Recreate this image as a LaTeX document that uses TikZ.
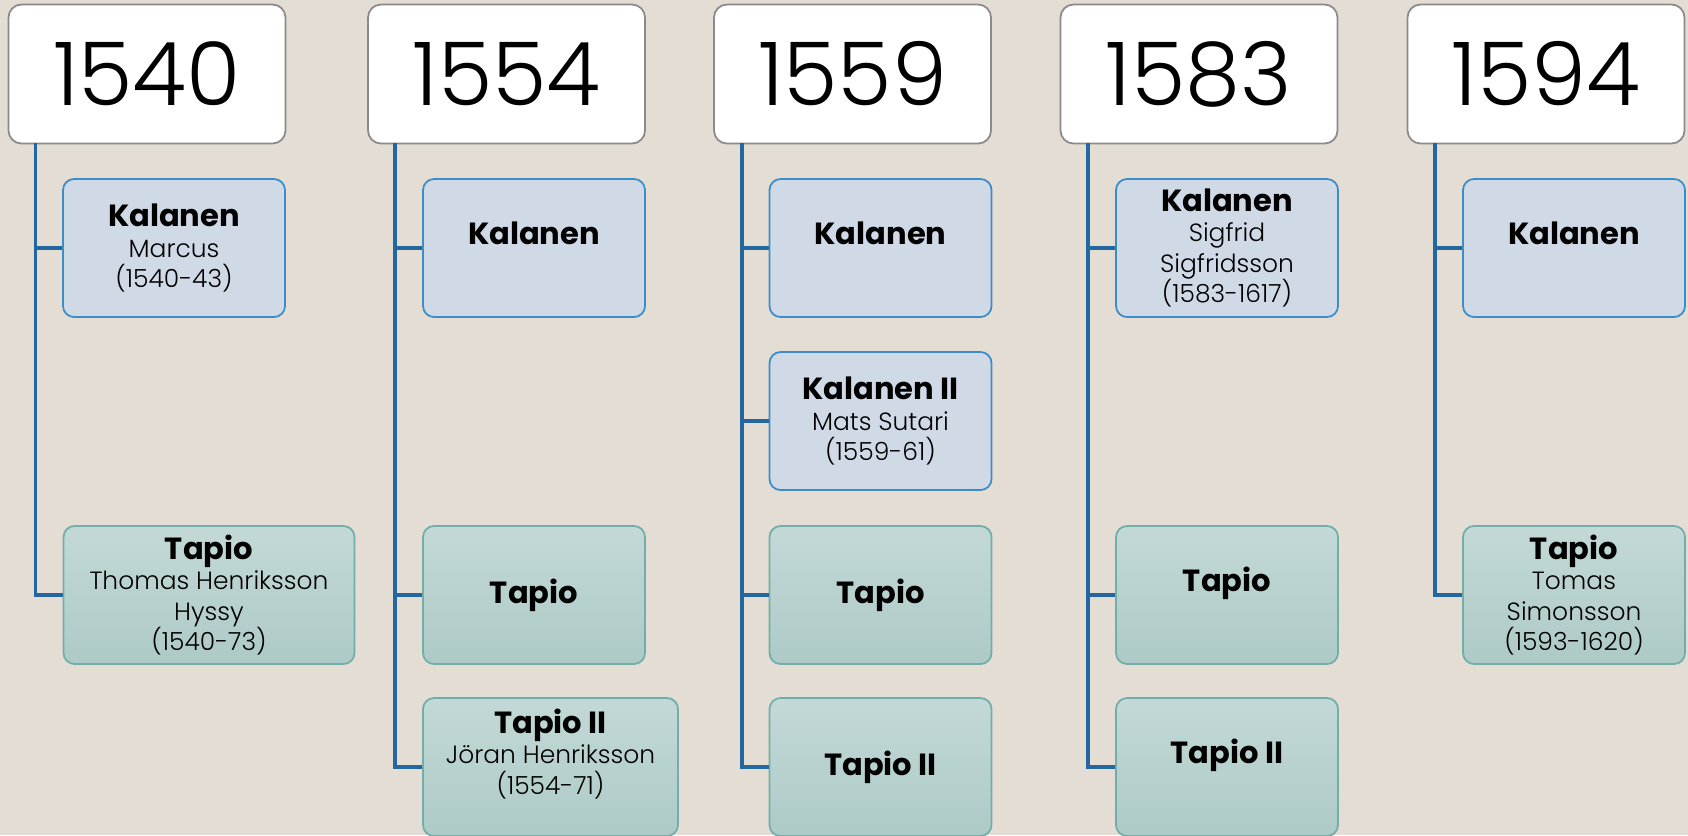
\documentclass[tikz,border=0pt]{standalone}
\usepackage{fontspec}
\setmainfont{Poppins}[UprightFont=* Light, BoldFont=* Bold]
\definecolor{paper}{HTML}{E3DDD3}
\definecolor{yearline}{HTML}{8A8A8A}
\definecolor{kline}{HTML}{3C8CC8}
\definecolor{kfill}{HTML}{D0D9E6}
\definecolor{tline}{HTML}{72AEA9}
\definecolor{ttop}{HTML}{C3D9D7}
\definecolor{tbot}{HTML}{ADCAC7}
\definecolor{linkblue}{HTML}{2466A0}
\newcommand{\hname}[1]{{\fontsize{8.7}{8.8}\selectfont\bfseries #1}}
\tikzset{
  yearbox/.style={draw=yearline, fill=white, rounded corners=1.3mm, line width=0.5pt,
    minimum width=27.7mm, minimum height=13.9mm, font=\fontsize{25}{30}\selectfont},
  kbox/.style={draw=kline, fill=kfill, rounded corners=1.1mm, line width=0.5pt,
    minimum width=22.2mm, minimum height=13.8mm, align=center, inner sep=0pt,
    font=\fontsize{7.1}{8.7}\selectfont},
  tbox/.style={kbox, draw=tline, top color=ttop, bottom color=tbot},
  link/.style={draw=linkblue, line width=0.9pt},
}
\begin{document}
\begin{tikzpicture}[x=0.1mm,y=-0.1mm]
  \fill[paper] (0,0) rectangle (1688,835);
  \useasboundingbox (0,0) rectangle (1688,835);
  % years
  \node[yearbox] (y1540) at (147,74) {1540};
  \node[yearbox] (y1554) at (506.5,74) {1554};
  \node[yearbox] (y1559) at (852.5,74) {1559};
  \node[yearbox] (y1583) at (1199,74) {1583};
  \node[yearbox] (y1594) at (1546,74) {1594};
  % 1540
  \node[kbox] (k1540) at (174,248) {\hname{Kalanen}\\ Marcus\\ (1540-43)};
  \node[tbox, minimum width=29.1mm] (t1540) at (209,595) {\hname{Tapio}\\ Thomas Henriksson\\ Hyssy\\ (1540-73)};
  % 1554
  \node[kbox] (k1554) at (534,248) {\hname{Kalanen}\\ ~};
  \node[tbox] (t1554) at (534,595) {\hname{Tapio}};
  \node[tbox, minimum width=25.5mm] (tt1554) at (550.5,767) {\hname{Tapio II}\\ Jöran Henriksson\\ (1554-71)\\ ~};
  % 1559
  \node[kbox] (k1559) at (880.5,248) {\hname{Kalanen}\\ ~};
  \node[kbox] (kk1559) at (880.5,421) {\hname{Kalanen II}\\ Mats Sutari\\ (1559-61)};
  \node[tbox] (t1559) at (880.5,595) {\hname{Tapio}};
  \node[tbox] (tt1559) at (880.5,767) {\hname{Tapio II}};
  % 1583
  \node[kbox] (k1583) at (1227,248) {\hname{Kalanen}\\ Sigfrid\\ Sigfridsson\\ (1583-1617)};
  \node[tbox] (t1583) at (1227,595) {\hname{Tapio}\\ ~};
  \node[tbox] (tt1583) at (1227,767) {\hname{Tapio II}\\ ~};
  % 1594
  \node[kbox] (k1594) at (1574,248) {\hname{Kalanen}\\ ~};
  \node[tbox] (t1594) at (1574,595) {\hname{Tapio}\\ Tomas\\ Simonsson\\ (1593-1620)};
  % spines
  \coordinate (s1540) at (35.5,143);
  \coordinate (s1554) at (395,143);
  \coordinate (s1559) at (742,143);
  \coordinate (s1583) at (1088,143);
  \coordinate (s1594) at (1435,143);
  \draw[link] (s1540) |- (k1540.west) (s1540) |- (t1540.west);
  \draw[link] (s1554) |- (k1554.west) (s1554) |- (t1554.west) (s1554) |- (tt1554.west);
  \draw[link] (s1559) |- (k1559.west) (s1559) |- (kk1559.west) (s1559) |- (t1559.west) (s1559) |- (tt1559.west);
  \draw[link] (s1583) |- (k1583.west) (s1583) |- (t1583.west) (s1583) |- (tt1583.west);
  \draw[link] (s1594) |- (k1594.west) (s1594) |- (t1594.west);
\end{tikzpicture}
\end{document}
